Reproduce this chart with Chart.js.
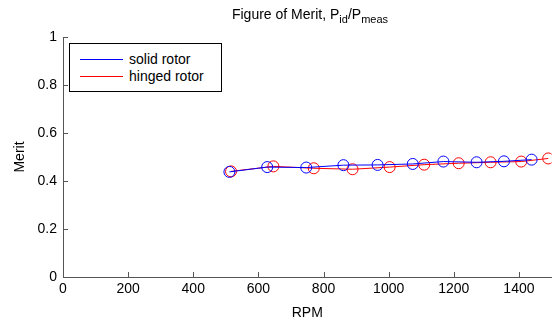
<!DOCTYPE html>
<html><head><meta charset="utf-8">
<script src="https://cdn.jsdelivr.net/npm/chart.js@4.4.1/dist/chart.umd.min.js"></script>
<style>
html,body{margin:0;padding:0;background:#fff;}
#wrap{position:relative;width:558px;height:324px;font-family:"Liberation Sans",Arial,sans-serif;color:#000;}
#title{position:absolute;left:0;width:620px;top:6px;text-align:center;font-size:14px;}
#title sub{font-size:11px;vertical-align:-4px;}
#legend{position:absolute;left:69px;top:43px;width:153px;height:49px;border:1px solid #000;background:#fff;font-size:14px;box-sizing:border-box;}
.row{position:absolute;left:59px;height:16px;line-height:16px;white-space:nowrap;}
.sw{position:absolute;left:10px;width:43px;height:1px;}
</style></head>
<body><div id="wrap">
<canvas id="c" width="558" height="324"></canvas>
<div id="title">Figure of Merit, P<sub>id</sub>/P<sub>meas</sub></div>
<div id="legend">
<div class="sw" style="top:15px;background:#0000ff"></div>
<div class="row" style="top:7px">solid rotor</div>
<div class="sw" style="top:32px;background:#ff0000"></div>
<div class="row" style="top:24px">hinged rotor</div>
</div>
</div>
<script>
const solidRPM   = [511, 627, 747, 861, 966, 1074, 1168, 1270, 1354, 1439];
const solidMerit = [0.438, 0.458, 0.456, 0.466, 0.467, 0.471, 0.481, 0.478, 0.482, 0.489];
const hingedRPM   = [516, 646, 770, 889, 1003, 1109, 1215, 1313, 1407, 1490];
const hingedMerit = [0.440, 0.461, 0.453, 0.449, 0.458, 0.468, 0.474, 0.478, 0.481, 0.494];
const xTicks = [0, 200, 400, 600, 800, 1000, 1200, 1400];
const yTicks = [0, 0.2, 0.4, 0.6, 0.8, 1];
const seriesNames = ['solid rotor', 'hinged rotor'];

const FONT = {family: '"Liberation Sans", Arial, sans-serif', size: 14};
const toXY = (xs, ys) => xs.map((x, i) => ({x, y: ys[i]}));

const inwardTicks = {
  id: 'inwardTicks',
  afterDraw(chart) {
    const ctx = chart.ctx, a = chart.chartArea;
    const xs = chart.scales.x, ys = chart.scales.y;
    ctx.save();
    ctx.strokeStyle = '#555';
    ctx.lineWidth = 1;
    ctx.beginPath();
    xs.ticks.forEach(t => {
      const px = Math.round(xs.getPixelForValue(t.value)) + 0.5;
      ctx.moveTo(px, a.bottom); ctx.lineTo(px, a.bottom - 5);
    });
    ys.ticks.forEach(t => {
      const py = Math.round(ys.getPixelForValue(t.value)) + 0.5;
      ctx.moveTo(a.left, py); ctx.lineTo(a.left + 5, py);
    });
    ctx.stroke();
    ctx.restore();
  }
};

new Chart(document.getElementById('c'), {
  type: 'scatter',
  data: {
    datasets: [
      {label: seriesNames[0], data: toXY(solidRPM, solidMerit), showLine: true,
       borderColor: '#0000ff', backgroundColor: 'rgba(0,0,0,0)', borderWidth: 1,
       pointRadius: 5.5, pointBorderWidth: 1, pointBorderColor: '#0000ff', pointBackgroundColor: 'rgba(0,0,0,0)'},
      {label: seriesNames[1], data: toXY(hingedRPM, hingedMerit), showLine: true,
       borderColor: '#ff0000', backgroundColor: 'rgba(0,0,0,0)', borderWidth: 1,
       pointRadius: 5.5, pointBorderWidth: 1, pointBorderColor: '#ff0000', pointBackgroundColor: 'rgba(0,0,0,0)'}
    ]
  },
  options: {
    responsive: false,
    animation: false,
    events: [],
    layout: {padding: {top: 37, right: 0, left: 0, bottom: 0}},
    plugins: {legend: {display: false}, title: {display: false}, tooltip: {enabled: false}},
    scales: {
      x: {
        type: 'linear', min: 0, max: 1500,
        afterBuildTicks: s => { s.ticks = xTicks.map(v => ({value: v})); },
        afterFit: s => { s.height = 47; },
        grid: {display: true, drawOnChartArea: false, drawTicks: false},
        border: {display: true, color: '#555', width: 1},
        ticks: {font: FONT, color: '#000', padding: 4, maxRotation: 0, autoSkip: false, callback: v => String(v)},
        title: {display: true, text: 'RPM', font: FONT, color: '#000', padding: {top: 0, bottom: 2}}
      },
      y: {
        type: 'linear', min: 0, max: 1,
        afterBuildTicks: s => { s.ticks = yTicks.map(v => ({value: v})); },
        afterFit: s => { s.width = 63; },
        grid: {display: true, drawOnChartArea: false, drawTicks: false},
        border: {display: true, color: '#555', width: 1},
        ticks: {font: FONT, color: '#000', padding: 6, callback: v => String(v)},
        title: {display: true, text: 'Merit', font: FONT, color: '#000', padding: {top: 12, bottom: 0}}
      }
    }
  },
  plugins: [inwardTicks]
});
</script>
</body></html>
